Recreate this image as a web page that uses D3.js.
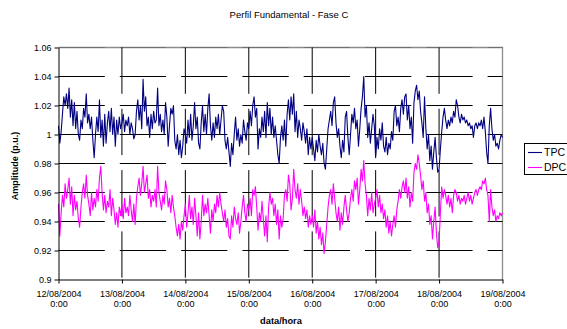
<!DOCTYPE html>
<html>
<head>
<meta charset="utf-8">
<script src="https://cdn.jsdelivr.net/npm/d3@7"></script>
<style>
  body { margin: 0; background: #fff; }
  svg { display: block; }
  text { font-family: Arial, "Liberation Sans", sans-serif; fill: #000; }
</style>
</head>
<body>
<svg id="chart" width="567" height="329"></svg>
<script>
// Chart text
const chartTitle = "Perfil Fundamental - Fase C";
const xTitle = "data/hora";
const yTitle = "Amplitude (p.u.)";
const seriesNames = ["TPC", "DPC"];

// Time axis: one reading every 30 minutes from 12/08/2004 0:00 to 19/08/2004 0:00
const startDate = new Date(2004, 7, 12, 0, 0);
const endDate = new Date(2004, 7, 19, 0, 0);
const stepMinutes = 30;

// Amplitude axis ticks
const yTicks = [0.9, 0.92, 0.94, 0.96, 0.98, 1, 1.02, 1.04, 1.06];

// TPC amplitude (p.u.), one row per day
const tpc = [
  1.006,0.994,1.002,1.014,1.026,1.020,1.028,1.018,1.032,1.012,1.024,1.006,1.022,1.004,1.016,1.000,0.996,1.010,1.004,1.018,1.012,1.028,1.008,1.014,1.004,1.012,0.996,0.984,1.000,1.012,1.002,1.024,0.998,1.010,0.992,1.014,0.994,1.008,1.016,1.002,1.018,1.000,1.012,0.992,1.010,1.000,1.012,1.004,
  1.008,1.014,1.002,1.010,1.006,1.012,1.000,1.008,1.004,0.997,1.000,1.016,1.024,1.010,1.020,1.004,1.038,1.016,1.026,1.006,1.012,0.998,1.014,1.004,1.016,1.008,1.010,1.032,1.006,1.014,1.002,1.010,1.000,1.022,1.012,0.992,1.006,1.018,1.014,1.020,0.996,0.990,1.000,0.986,0.996,0.984,0.992,1.004,
  1.000,0.994,1.010,0.998,1.014,0.996,1.006,1.022,1.004,1.012,0.994,0.990,1.008,1.020,1.002,1.014,1.000,1.018,1.028,1.006,0.996,1.008,0.998,1.012,1.004,1.014,1.000,1.010,1.020,1.016,0.996,0.990,0.998,0.988,0.978,0.994,0.986,1.000,1.012,0.996,1.004,0.992,1.000,0.994,1.010,1.002,0.996,1.008,
  1.004,1.016,1.006,1.020,1.026,1.012,1.018,0.990,1.004,0.998,1.012,1.002,1.016,0.998,1.022,1.006,1.018,1.000,1.012,0.998,1.006,0.996,0.986,0.980,0.998,1.006,0.996,1.010,0.992,1.014,1.024,1.010,1.026,1.014,1.028,1.002,1.016,0.998,1.010,1.004,0.996,1.008,1.002,0.994,1.004,0.986,0.998,0.990,
  0.998,0.990,0.982,0.996,0.988,1.000,0.992,0.986,0.994,0.980,0.976,0.990,1.004,1.010,1.016,1.006,1.022,1.026,1.008,0.998,1.004,0.992,0.984,0.996,0.988,1.012,1.016,0.998,0.986,1.000,1.014,1.008,1.018,1.004,1.010,0.992,1.004,1.018,1.026,1.040,1.012,1.020,0.998,1.008,0.994,1.004,1.014,1.006,
  0.984,0.998,0.990,1.004,0.996,1.008,0.992,0.988,0.998,0.986,0.994,0.990,1.002,0.996,1.016,1.020,1.006,1.012,1.002,1.018,1.024,1.014,1.026,1.028,1.010,1.020,1.004,1.012,0.994,1.022,1.030,1.034,1.024,1.030,1.016,1.008,0.998,1.026,1.004,0.990,1.000,0.982,0.992,0.976,0.988,0.998,0.984,0.974,
  0.976,0.990,1.002,1.012,1.018,1.010,1.004,1.010,1.006,1.012,1.008,1.016,1.012,1.024,1.020,1.012,1.008,1.014,1.010,1.012,1.008,1.010,1.006,1.008,1.004,1.006,0.998,1.006,1.008,1.004,1.008,1.006,1.010,1.004,1.012,1.002,0.988,0.980,1.006,1.018,1.004,0.996,1.000,0.992,0.994,0.990,0.996,1.000,
  0.998
];

// DPC amplitude (p.u.), one row per day
const dpc = [
  0.952,0.930,0.946,0.958,0.950,0.966,0.956,0.962,0.970,0.952,0.964,0.944,0.958,0.948,0.954,0.942,0.936,0.950,0.960,0.966,0.956,0.972,0.958,0.952,0.944,0.960,0.948,0.956,0.950,0.962,0.954,0.970,0.978,0.960,0.948,0.958,0.946,0.954,0.950,0.962,0.944,0.956,0.948,0.938,0.946,0.936,0.950,0.944,
  0.952,0.942,0.956,0.946,0.950,0.944,0.958,0.948,0.940,0.952,0.938,0.956,0.964,0.970,0.958,0.966,0.978,0.960,0.966,0.972,0.956,0.962,0.950,0.958,0.954,0.962,0.950,0.978,0.960,0.954,0.948,0.958,0.952,0.968,0.962,0.950,0.956,0.946,0.958,0.950,0.944,0.936,0.930,0.938,0.928,0.940,0.934,0.944,
  0.952,0.936,0.946,0.958,0.942,0.950,0.938,0.956,0.944,0.930,0.946,0.928,0.940,0.958,0.944,0.952,0.946,0.956,0.944,0.932,0.948,0.940,0.952,0.946,0.958,0.950,0.960,0.952,0.946,0.940,0.948,0.936,0.942,0.930,0.928,0.944,0.936,0.950,0.942,0.938,0.946,0.932,0.940,0.950,0.958,0.946,0.940,0.952,
  0.948,0.956,0.944,0.962,0.958,0.964,0.950,0.934,0.946,0.940,0.954,0.942,0.930,0.944,0.926,0.950,0.960,0.952,0.956,0.944,0.952,0.938,0.948,0.928,0.944,0.936,0.942,0.958,0.962,0.954,0.972,0.966,0.948,0.956,0.976,0.962,0.956,0.966,0.952,0.962,0.954,0.944,0.950,0.942,0.948,0.936,0.944,0.938,
  0.944,0.936,0.948,0.932,0.940,0.928,0.936,0.924,0.932,0.918,0.926,0.938,0.950,0.958,0.962,0.952,0.966,0.956,0.946,0.940,0.950,0.934,0.946,0.938,0.950,0.958,0.948,0.940,0.946,0.956,0.962,0.954,0.968,0.962,0.970,0.952,0.962,0.976,0.968,0.982,0.966,0.958,0.944,0.956,0.948,0.960,0.946,0.952,
  0.956,0.962,0.950,0.958,0.946,0.952,0.942,0.948,0.936,0.944,0.932,0.940,0.930,0.938,0.944,0.936,0.948,0.954,0.962,0.956,0.964,0.968,0.960,0.970,0.956,0.964,0.950,0.960,0.954,0.974,0.980,0.976,0.986,0.980,0.972,0.962,0.968,0.954,0.960,0.946,0.952,0.938,0.944,0.928,0.940,0.950,0.932,0.922,
  0.926,0.946,0.964,0.956,0.962,0.958,0.952,0.958,0.950,0.956,0.946,0.958,0.962,0.960,0.954,0.958,0.952,0.956,0.954,0.958,0.952,0.956,0.960,0.954,0.958,0.952,0.956,0.960,0.962,0.958,0.962,0.964,0.962,0.968,0.966,0.970,0.962,0.958,0.940,0.962,0.950,0.944,0.948,0.940,0.944,0.942,0.946,0.944,
  0.946
];

const seriesColors = ["#000080", "#FF00FF"];

const svg = d3.select("#chart");
const plot = { left: 58.5, right: 502.5, top: 47.5, bottom: 279.5 };

const x = d3.scaleTime().domain([startDate, endDate]).range([plot.left, plot.right]);
const y = d3.scaleLinear().domain([yTicks[0], yTicks[yTicks.length - 1]]).range([plot.bottom, plot.top]);
const days = d3.timeDay.range(startDate, d3.timeDay.offset(endDate, 1));

// Title
svg.append("text")
  .attr("x", 289).attr("y", 18)
  .attr("text-anchor", "middle")
  .style("font-size", "9.5px")
  .text(chartTitle);

// Plot frame (top and right edges)
svg.append("path")
  .attr("d", `M${plot.left},${plot.top}H${plot.right}V${plot.bottom}`)
  .attr("fill", "none").attr("stroke", "#8c8c8c").attr("stroke-width", 1.3);

// Horizontal dashed gridlines
svg.append("g").selectAll("line")
  .data(yTicks.slice(1))
  .join("line")
  .attr("x1", plot.left).attr("x2", plot.right)
  .attr("y1", d => y(d)).attr("y2", d => y(d))
  .attr("stroke", d => d === yTicks[yTicks.length - 1] ? "#707070" : "#000")
  .attr("stroke-width", 1)
  .attr("stroke-dasharray", "46.3,15");

// Vertical dashed gridlines
svg.append("g").selectAll("line")
  .data(days.slice(1, -1))
  .join("line")
  .attr("x1", d => x(d)).attr("x2", d => x(d))
  .attr("y1", plot.top).attr("y2", plot.bottom)
  .attr("stroke", "#000")
  .attr("stroke-width", 1)
  .attr("stroke-dasharray", "46.3,15");

// Series lines
const series = [tpc, dpc];
const line = d3.line()
  .x((d, i) => x(d3.timeMinute.offset(startDate, i * stepMinutes)))
  .y(d => y(d));

svg.append("g").selectAll("path")
  .data(series)
  .join("path")
  .attr("d", d => line(d))
  .attr("fill", "none")
  .attr("stroke", (d, i) => seriesColors[i])
  .attr("stroke-width", 1.1)
  .attr("stroke-linejoin", "round");

// Y axis
const yAxis = svg.append("g")
  .attr("transform", `translate(${plot.left},0)`)
  .call(d3.axisLeft(y).tickValues(yTicks).tickSize(4).tickSizeOuter(0).tickPadding(3)
    .tickFormat(d => String(+d.toFixed(2))));
yAxis.selectAll("text").style("font-size", "9px").style("font-family", "Arial, 'Liberation Sans', sans-serif");
yAxis.selectAll("line, path").attr("stroke", "#000");

// X axis with two-line date labels
const xAxis = svg.append("g")
  .attr("transform", `translate(0,${plot.bottom})`)
  .call(d3.axisBottom(x).tickValues(days).tickSize(4).tickSizeOuter(0).tickFormat(""));
xAxis.selectAll("line, path").attr("stroke", "#000");
const fmtDate = d3.timeFormat("%d/%m/%Y");
const fmtTime = d3.timeFormat("%-H:%M");
xAxis.selectAll(".tick").append("text")
  .attr("text-anchor", "middle")
  .style("font-size", "9px")
  .style("font-family", "Arial, 'Liberation Sans', sans-serif")
  .attr("fill", "#000")
  .call(t => t.append("tspan").attr("x", 0).attr("y", 17).text(d => fmtDate(d)))
  .call(t => t.append("tspan").attr("x", 0).attr("y", 27).text(d => fmtTime(d)));

// Axis titles
svg.append("text")
  .attr("x", 281).attr("y", 324)
  .attr("text-anchor", "middle")
  .style("font-size", "9.3px").style("font-weight", "bold")
  .text(xTitle);

svg.append("text")
  .attr("transform", "translate(18,166) rotate(-90)")
  .attr("text-anchor", "middle")
  .style("font-size", "9px").style("font-weight", "bold")
  .text(yTitle);

// Legend
const legend = svg.append("g");
legend.append("rect")
  .attr("x", 524.5).attr("y", 143.5).attr("width", 50).attr("height", 31)
  .attr("fill", "#fff").attr("stroke", "#000").attr("stroke-width", 1);
seriesNames.forEach((name, i) => {
  const ly = 152.5 + i * 15;
  legend.append("line")
    .attr("x1", 528).attr("x2", 542).attr("y1", ly).attr("y2", ly)
    .attr("stroke", seriesColors[i]).attr("stroke-width", 1.1);
  legend.append("text")
    .attr("x", 544).attr("y", ly + 3.7)
    .style("font-size", "10.5px")
    .text(name);
});
</script>
</body>
</html>
